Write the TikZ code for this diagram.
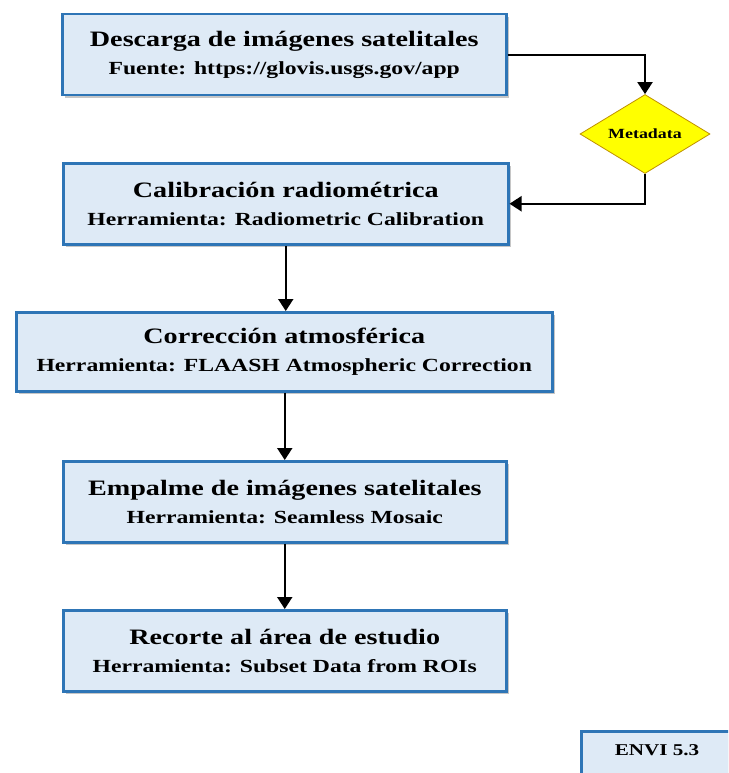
\documentclass[tikz,border=0pt]{standalone}
\usepackage{fontspec}
\setmainfont{Liberation Serif}
\newfontfamily\wideserif[FakeStretch=1.28]{Liberation Serif}
\usetikzlibrary{shapes.geometric,shadows,arrows.meta}
\definecolor{boxfill}{HTML}{DEEAF6}
\definecolor{boxline}{HTML}{2E75B6}
\definecolor{diafill}{HTML}{FFFF00}
\definecolor{dialine}{HTML}{BF9000}
\tikzset{
  stepbox/.style={draw=boxline, line width=2.5pt, fill=boxfill, inner sep=0pt, anchor=north west,
    drop shadow={opacity=0.45, shadow xshift=2.5pt, shadow yshift=-2.5pt}, align=center,
    font=\wideserif\bfseries\fontsize{18.5}{27.5}\selectfont},
  decision/.style={diamond, draw=dialine, line width=0.8pt, fill=diafill, inner sep=0pt, aspect=1.64,
    minimum width=130pt, minimum height=79pt, font=\wideserif\bfseries\fontsize{14}{16}\selectfont},
  flow/.style={line width=2pt, -{Triangle[length=12pt,width=15pt]}},
}
\newcommand{\twoline}[2]{{\fontsize{22}{27.5}\selectfont #1}\\{#2}}
\begin{document}
\begin{tikzpicture}[x=1pt,y=-1pt]
\useasboundingbox (0,0) rectangle (728,773);
\clip (0,0) rectangle (728,773);
\node[stepbox, minimum width=444pt, minimum height=81pt] (b1) at (61,13) {\twoline{Descarga de imágenes satelitales}{Fuente: https://glovis.usgs.gov/app}};
\node[stepbox, minimum width=445pt, minimum height=81pt] (b2) at (62,162) {\twoline{Calibración radiométrica}{Herramienta: Radiometric Calibration}};
\node[stepbox, minimum width=536pt, minimum height=79pt] (b3) at (15,311) {\twoline{Corrección atmosférica}{Herramienta: FLAASH Atmospheric Correction}};
\node[stepbox, minimum width=443pt, minimum height=81pt] (b4) at (62,460) {\twoline{Empalme de imágenes satelitales}{Herramienta: Seamless Mosaic}};
\node[stepbox, minimum width=443pt, minimum height=81pt] (b5) at (62,609) {\twoline{Recorte al área de estudio}{Herramienta: Subset Data from ROIs}};
\node[stepbox, minimum width=180pt, minimum height=70pt] (env) at (580,730) {};
\node[font=\wideserif\bfseries\fontsize{16.5}{18}\selectfont, inner sep=0pt] (envt) at (657,750) {ENVI 5.3};
\node[decision] (meta) at (645,134) {Metadata};
\draw[flow] (b1.east) -- (meta.north |- b1.east) -- (meta.north);
\draw[flow] (meta.south) |- (b2.east);
\draw[flow] (b2.south) -- (b3.north -| b2.south);
\draw[flow] (b3.south -| b4.north) -- (b4.north);
\draw[flow] (b4.south) -- (b5.north);
\end{tikzpicture}
\end{document}
